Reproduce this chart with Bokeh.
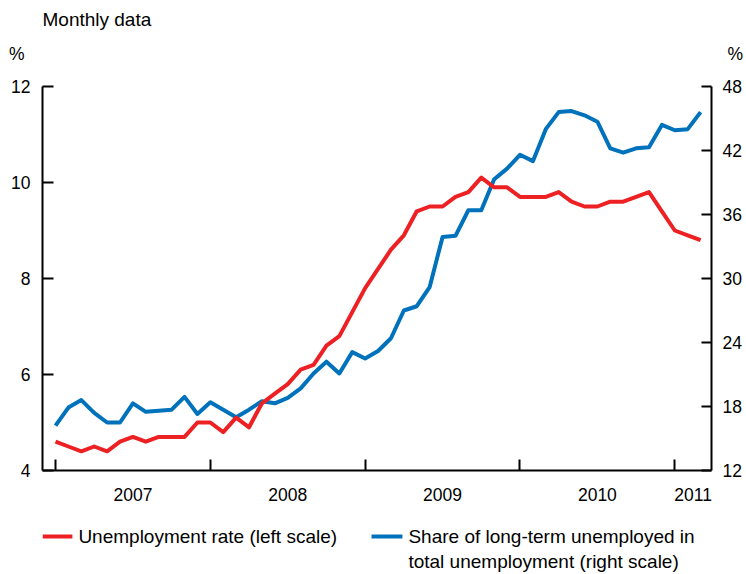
import pandas as pd
from bokeh.plotting import figure
from bokeh.layouts import column
from bokeh.models import LinearAxis, Range1d, FixedTicker, CustomJSTickFormatter
from bokeh.core.properties import value
from bokeh.embed import file_html
from bokeh.resources import INLINE

# ---------------- data ----------------
months = pd.date_range("2007-01-01", "2011-03-01", freq="MS")
year_ticks = [2007, 2008, 2009, 2010, 2011]
left_ticks = [4, 6, 8, 10, 12]
right_ticks = [12, 18, 24, 30, 36, 42, 48]

unemployment_rate = [
    4.6, 4.5, 4.4, 4.5, 4.4, 4.6, 4.7, 4.6, 4.7, 4.7, 4.7, 5.0,
    5.0, 4.8, 5.1, 4.9, 5.4, 5.6, 5.8, 6.1, 6.2, 6.6, 6.8, 7.3,
    7.8, 8.2, 8.6, 8.9, 9.4, 9.5, 9.5, 9.7, 9.8, 10.1, 9.9, 9.9,
    9.7, 9.7, 9.7, 9.8, 9.6, 9.5, 9.5, 9.6, 9.6, 9.7, 9.8, 9.4,
    9.0, 8.9, 8.8,
]
long_term_share = [
    16.2, 17.9, 18.6, 17.4, 16.5, 16.5, 18.3, 17.5, 17.6, 17.7, 18.9, 17.3,
    18.4, 17.7, 17.0, 17.7, 18.5, 18.3, 18.8, 19.7, 21.1, 22.2, 21.1, 23.1,
    22.5, 23.2, 24.4, 27.0, 27.4, 29.2, 33.9, 34.0, 36.4, 36.4, 39.3, 40.3,
    41.6, 41.0, 44.0, 45.6, 45.7, 45.3, 44.7, 42.2, 41.8, 42.2, 42.3, 44.4,
    43.9, 44.0, 45.6,
]
series_names = ["Unemployment rate (left scale)",
                "Share of long-term unemployed in",
                "total unemployment (right scale)"]

t = [d.year + (d.month - 1) / 12 for d in months]

RED = "#ED2024"
BLUE = "#0072BC"
FONT = "Liberation Sans"
W = 746
H_TOP, H_MAIN, H_BOT = 66, 444, 64
BL, BR = 42, 33          # shared left/right borders (frames are aligned)
FL, FR = BL, W - BR      # frame edges in page pixels


def blank(height):
    f = figure(width=W, height=height, x_range=Range1d(FL, FR),
               y_range=Range1d(height, 0), x_axis_type=None, y_axis_type=None,
               output_backend="svg", toolbar_location=None,
               min_border_left=BL, min_border_right=BR, min_border_top=0,
               min_border_bottom=0)
    f.title = None
    f.outline_line_color = None
    f.background_fill_color = "white"
    f.border_fill_color = "white"
    return f


# ---------------- header ----------------
top = blank(H_TOP)
top.text(x=[FL], y=[19], text=["Monthly data"], text_font=value(FONT),
         text_font_size=value("19px"), text_baseline="alphabetic",
         text_align="left", text_color="black")
pct_common = dict(ticker=FixedTicker(ticks=[53]),
                  formatter=CustomJSTickFormatter(code="return '%';"),
                  axis_line_color=None, major_tick_line_color=None,
                  minor_tick_line_color=None, major_tick_in=0, major_tick_out=0,
                  major_label_text_font=FONT, major_label_text_font_size="17.5px",
                  major_label_text_color="black")
top.add_layout(LinearAxis(major_label_standoff=18, **pct_common), "left")
top.add_layout(LinearAxis(major_label_standoff=16, **pct_common), "right")

# ---------------- main chart ----------------
x0, x1 = 2006.916, 2011.237
p = figure(width=W, height=H_MAIN, x_range=Range1d(x0, x1), y_range=Range1d(4, 12),
           x_axis_type=None, y_axis_type=None, output_backend="svg",
           toolbar_location=None, min_border_left=BL, min_border_right=BR,
           min_border_top=20, min_border_bottom=40)
p.title = None
p.outline_line_color = None
p.background_fill_color = "white"
p.border_fill_color = "white"
p.extra_y_ranges = {"right": Range1d(12, 48)}

axis_common = dict(axis_line_width=2, axis_line_color="black",
                   major_tick_line_width=2, major_tick_line_color="black",
                   minor_tick_line_color=None,
                   major_label_text_font=FONT,
                   major_label_text_font_size="17.5px",
                   major_label_text_color="black")

left = LinearAxis(ticker=FixedTicker(ticks=left_ticks), major_tick_in=11,
                  major_tick_out=0, major_label_standoff=12, **axis_common)
p.add_layout(left, "left")

right = LinearAxis(y_range_name="right", ticker=FixedTicker(ticks=right_ticks),
                   major_tick_in=10, major_tick_out=0, major_label_standoff=11,
                   **axis_common)
p.add_layout(right, "right")

label_pos = [y + 0.5 for y in year_ticks[:-1]] + [(year_ticks[-1] + x1) / 2]
bottom = LinearAxis(ticker=FixedTicker(ticks=label_pos, minor_ticks=year_ticks),
                    formatter=CustomJSTickFormatter(code="return Math.floor(tick).toString();"),
                    axis_line_width=2, axis_line_color="black",
                    major_tick_line_color=None,
                    minor_tick_line_color="black", minor_tick_line_width=2,
                    minor_tick_in=11, minor_tick_out=0,
                    major_label_standoff=11,
                    major_label_text_font=FONT,
                    major_label_text_font_size="17.5px",
                    major_label_text_color="black")
p.add_layout(bottom, "below")

p.line(t, long_term_share, y_range_name="right", line_color=BLUE, line_width=4,
       line_join="round")
p.line(t, unemployment_rate, line_color=RED, line_width=4, line_join="round")

# ---------------- legend ----------------
bot = blank(H_BOT)
bot.segment(x0=[FL, 372], y0=[26, 26], x1=[72, 403], y1=[26, 26],
            line_color=[RED, BLUE], line_width=4)
bot.text(x=[78, 409, 409], y=[26, 26, 51], text=series_names,
         text_font=value(FONT), text_font_size=value("19px"),
         text_baseline="alphabetic", text_align="left", text_color="black")

layout = column(top, p, bot, spacing=0)
open("out.html", "w").write(file_html(layout, INLINE))
